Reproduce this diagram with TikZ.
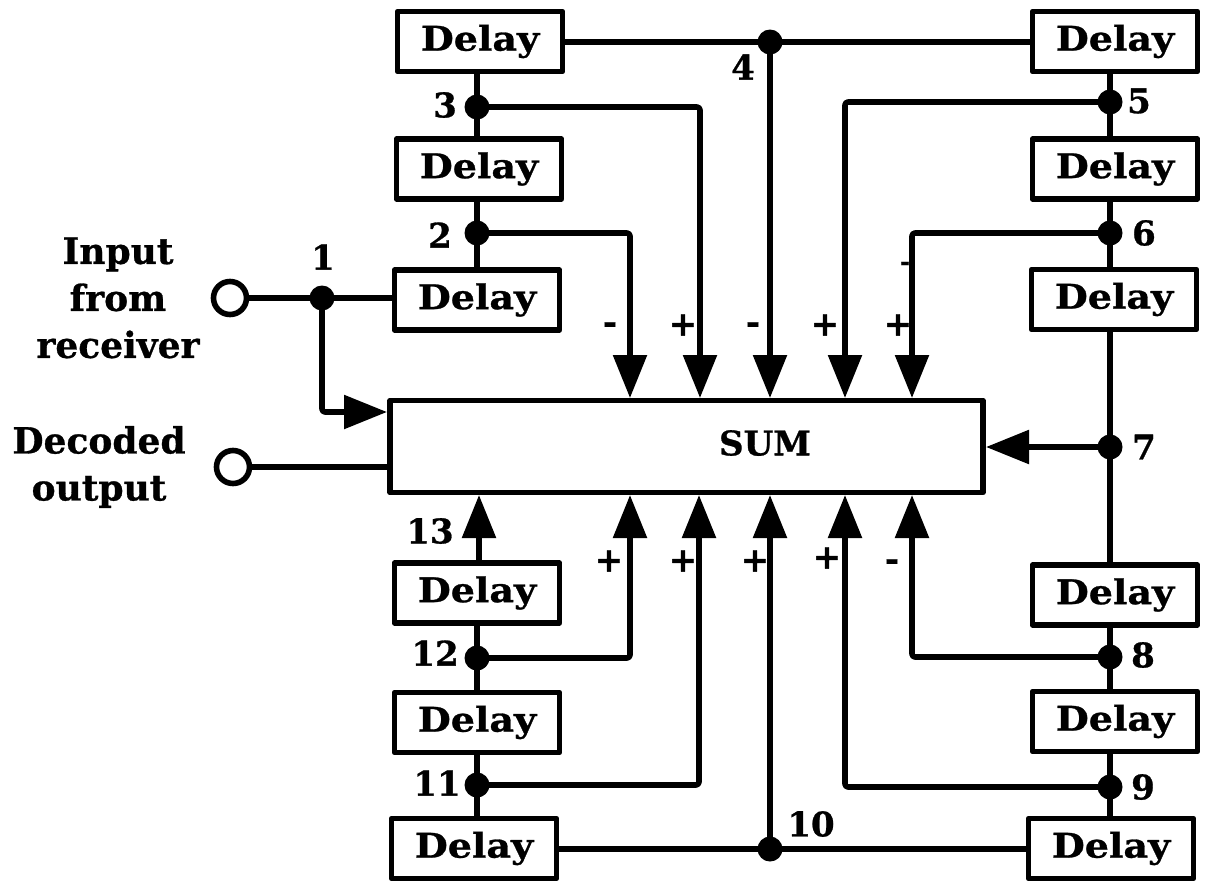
\documentclass[tikz,border=0pt]{standalone}
\usepackage{fontspec}
\setmainfont{DejaVu Serif}[BoldFeatures={FakeBold=0.8}]
\newfontfamily\delayfont{DejaVu Serif}[FakeStretch=1.12, BoldFeatures={FakeBold=0.8}]
\usetikzlibrary{arrows.meta}
\begin{document}
\begin{tikzpicture}[x=0.5pt,y=-0.5pt,
  line width=2.8pt, line join=round,
  every node/.style={font=\bfseries\fontsize{16}{19}\selectfont},
  dbox/.style={draw, line width=2.8pt, minimum width=82.5pt, minimum height=30pt, inner sep=0pt,
    font=\delayfont\bfseries\fontsize{17}{20}\selectfont},
  jn/.style={circle, fill, inner sep=0pt, minimum size=12.5pt},
  arr/.style={-{Triangle[length=21.5pt,width=16.5pt]}},
  lbl/.style={inner sep=0pt, font=\bfseries\fontsize{17}{20}\selectfont},
  sgn/.style={inner sep=0pt, font=\bfseries\fontsize{17}{20}\selectfont},
  side/.style={inner sep=0pt, align=center, font=\bfseries\fontsize{18}{23.5}\selectfont},
  port/.style={circle, draw, line width=2.8pt, minimum size=16.5pt, inner sep=0pt},
  conn/.style={rounded corners=1.5pt}
]
\useasboundingbox (0,0) rectangle (1205,884);

% SUM block
\node[draw, line width=2.8pt, minimum width=296.5pt, minimum height=46pt, inner sep=0pt] (sum) at (686.5,446.5) {};
\node[inner sep=0pt, font=\bfseries\fontsize{17}{20}\selectfont] (sumtxt) at (765,443) {SUM};

% Delay boxes
\node[dbox] (bA) at (480,41.5) {Delay};
\node[dbox] (bB) at (479,169) {Delay};
\node[dbox] (bC) at (477,300) {Delay};
\node[dbox] (bD) at (1115,41.5) {Delay};
\node[dbox] (bE) at (1115,169) {Delay};
\node[dbox] (bF) at (1114,299.5) {Delay};
\node[dbox] (bG) at (1115,595) {Delay};
\node[dbox] (bH) at (1115,721.5) {Delay};
\node[dbox] (bI) at (1111,848.5) {Delay};
\node[dbox] (bJ) at (477,593) {Delay};
\node[dbox] (bK) at (477,722.5) {Delay};
\node[dbox] (bL) at (474,848.5) {Delay};

% ports
\node[port] (pin) at (230,298) {};
\node[port] (pout) at (233,467) {};
\node[side] (tin) at (118,298) {Input\\from\\receiver};
\node[side] (tout) at (99,467) {Decoded\\output};

% junctions
\node[jn] (j1) at (322,298) {};
\node[jn] (j2) at (477,233) {};
\node[jn] (j3) at (477,107) {};
\node[jn] (j4) at (770,42) {};
\node[jn] (j5) at (1110,102) {};
\node[jn] (j6) at (1110,233) {};
\node[jn] (j7) at (1110,447) {};
\node[jn] (j8) at (1110,657) {};
\node[jn] (j9) at (1110,787) {};
\node[jn] (j10) at (770,849) {};
\node[jn] (j11) at (477,785) {};
\node[jn] (j12) at (477,658) {};

% arrow targets on SUM
\coordinate (t1) at (630,398);
\coordinate (t2) at (700,398);
\coordinate (t3) at (770,398);
\coordinate (t4) at (845,398);
\coordinate (t5) at (912,398);
\coordinate (b0) at (479,495);
\coordinate (b1) at (630,495);
\coordinate (b2) at (699,495);
\coordinate (b3) at (770,495);
\coordinate (b4) at (845,495);
\coordinate (b5) at (912,495);
\coordinate (inL) at (387,412);
\coordinate (outL) at (387,467);
\coordinate (r7) at (986,447);

% input / output
\draw (pin.east) -- (j1.center) -- (bC.west |- j1);
\draw[arr, conn] (j1.center) |- (inL);
\draw (pout.east) -- (outL);

% left upper column
\draw (bA.south -| j3) -- (j3.center) -- (bB.north -| j3);
\draw (bB.south -| j2) -- (j2.center) -- (bC.north -| j2);
\draw[arr, conn] (j3.center) -| (t2);
\draw[arr, conn] (j2.center) -| (t1);

% top line
\draw (bA.east |- j4) -- (j4.center) -- (bD.west |- j4);
\draw[arr] (j4.center) -- (t3);

% right column
\draw (bD.south -| j5) -- (j5.center) -- (bE.north -| j5);
\draw (bE.south -| j6) -- (j6.center) -- (bF.north -| j6);
\draw (bF.south -| j7) -- (j7.center) -- (bG.north -| j7);
\draw (bG.south -| j8) -- (j8.center) -- (bH.north -| j8);
\draw (bH.south -| j9) -- (j9.center) -- (bI.north -| j9);
\draw[arr, conn] (j5.center) -| (t4);
\draw[arr, conn] (j6.center) -| (t5);
\draw[arr] (j7.center) -- (r7);
\draw[arr, conn] (j8.center) -| (b5);
\draw[arr, conn] (j9.center) -| (b4);

% bottom line
\draw (bL.east |- j10) -- (j10.center) -- (bI.west |- j10);
\draw[arr] (j10.center) -- (b3);

% left lower column
\draw[arr] (bJ.north -| b0) -- (b0);
\draw (bJ.south -| j12) -- (j12.center) -- (bK.north -| j12);
\draw (bK.south -| j11) -- (j11.center) -- (bL.north -| j11);
\draw[arr, conn] (j12.center) -| (b1);
\draw[arr, conn] (j11.center) -| (b2);

% junction numbers
\node[lbl] (n1) at (323,257) {1};
\node[lbl] (n2) at (440,235) {2};
\node[lbl] (n3) at (445,105) {3};
\node[lbl] (n4) at (743,67) {4};
\node[lbl] (n5) at (1139,101) {5};
\node[lbl] (n6) at (1144,233) {6};
\node[lbl] (n7) at (1144,447) {7};
\node[lbl] (n8) at (1143,655) {8};
\node[lbl] (n9) at (1143,787) {9};
\node[lbl] (n10) at (811,824) {10};
\node[lbl] (n11) at (437,783) {11};
\node[lbl] (n12) at (435,653) {12};
\node[lbl] (n13) at (430,531) {13};

% signs
\node[sgn] (s1) at (610,328) {-};
\node[sgn] (s2) at (683,325) {+};
\node[sgn] (s3) at (753,328) {-};
\node[sgn] (s4) at (825,325) {+};
\node[sgn] (s5) at (898,325) {+};
\node[sgn, font=\bfseries\fontsize{12}{14}\selectfont] (s6) at (905,266) {-};
\node[sgn] (s7) at (609,561) {+};
\node[sgn] (s8) at (683,561) {+};
\node[sgn] (s9) at (755,561) {+};
\node[sgn] (s10) at (827,558) {+};
\node[sgn] (s11) at (892,565) {-};
\end{tikzpicture}
\end{document}
